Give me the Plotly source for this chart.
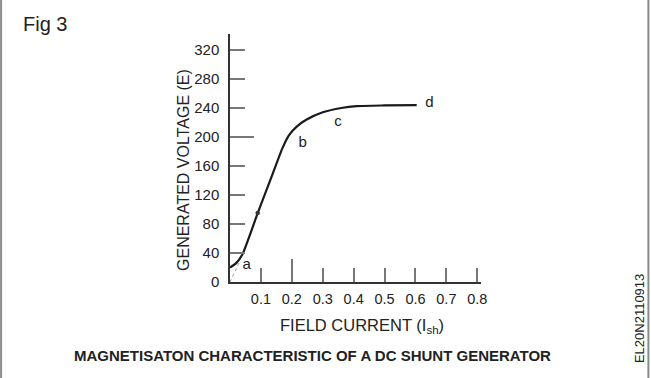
import plotly.graph_objects as go

# Magnetisation curve (field current A, generated voltage V)
field_current = [0, 0.02, 0.04, 0.0896, 0.13, 0.17, 0.19, 0.215, 0.248, 0.30, 0.36, 0.41, 0.50, 0.604]
gen_voltage = [20, 26, 38, 95, 140, 185, 202, 214, 224, 234, 240, 242.5, 243.5, 244]

# residual-magnetism extrapolation (dashed)
dash_x = [0, 0.03]
dash_y = [0, 27]

# marked point on the curve
dot_x = [0.0896]
dot_y = [95]

# point labels
label_text = ["a", "b", "c", "d"]
label_x = [0.054, 0.235, 0.349, 0.645]
label_y = [23, 192, 220, 246]

y_ticks = [0, 40, 80, 120, 160, 200, 240, 280, 320]
x_ticks = [0.1, 0.2, 0.3, 0.4, 0.5, 0.6, 0.7, 0.8]
x_tick_text = ["0.1", "0.2", "0.3", "0.4", "0.5", "0.6", "0.7", "0.8"]

FONT = "Liberation Sans, Arial, Helvetica, sans-serif"
INK = "#222222"

fig = go.Figure()
fig.add_trace(go.Scatter(x=dash_x, y=dash_y, mode="lines",
                         line=dict(color="#9a9a9a", width=1, dash="dot"),
                         hoverinfo="skip", showlegend=False))
fig.add_trace(go.Scatter(x=field_current, y=gen_voltage, mode="lines",
                         line=dict(color="#1a1a1a", width=2.2, shape="spline", smoothing=0.6),
                         showlegend=False))
fig.add_trace(go.Scatter(x=dot_x, y=dot_y, mode="markers",
                         marker=dict(color="#333333", size=4.5), showlegend=False))
fig.add_trace(go.Scatter(x=label_x, y=label_y, mode="text", text=label_text,
                         textfont=dict(family=FONT, size=15, color=INK),
                         textposition="middle center", showlegend=False))
# helper invisible trace for the overlay axes carrying the longer ticks
fig.add_trace(go.Scatter(x=[0.2], y=[200], xaxis="x2", yaxis="y2", mode="markers",
                         marker=dict(opacity=0), hoverinfo="skip", showlegend=False))

X_RANGE = [0, 0.812]
Y_RANGE = [0, 342]

fig.update_layout(
    width=651, height=378,
    margin=dict(l=230, r=170, t=34, b=96),
    paper_bgcolor="white", plot_bgcolor="white",
    font=dict(family=FONT, color=INK),
    xaxis=dict(range=X_RANGE, showgrid=False, zeroline=False,
               showline=True, linecolor="#333333", linewidth=1.5,
               tickmode="array", tickvals=x_ticks, ticktext=x_tick_text,
               ticks="inside", ticklen=14, tickwidth=1.5, tickcolor="#777777",
               tickfont=dict(size=14.5, color=INK), ticklabelstandoff=3),
    yaxis=dict(range=Y_RANGE, showgrid=False, zeroline=False,
               showline=True, linecolor="#333333", linewidth=1.5,
               tickmode="array", tickvals=y_ticks,
               ticks="inside", ticklen=15, tickwidth=1.5, tickcolor="#777777",
               tickfont=dict(size=15, color=INK), ticklabelstandoff=6),
    xaxis2=dict(range=X_RANGE, overlaying="x", showgrid=False, zeroline=False,
                showline=False, tickmode="array", tickvals=[0.2],
                ticks="inside", ticklen=23, tickwidth=1.5, tickcolor="#777777",
                showticklabels=False, side="bottom"),
    yaxis2=dict(range=Y_RANGE, overlaying="y", showgrid=False, zeroline=False,
                showline=False, tickmode="array", tickvals=[200],
                ticks="inside", ticklen=24, tickwidth=1.5, tickcolor="#777777",
                showticklabels=False, side="left"),
)

annotations = [
    dict(text="Fig 3", x=-0.833, y=1.040, xanchor="left", yanchor="middle",
         font=dict(size=20, color=INK)),
    dict(text="GENERATED VOLTAGE (E)", x=-0.183, y=0.452, textangle=-90,
         xanchor="center", yanchor="middle", font=dict(size=16, color=INK)),
    dict(text="FIELD CURRENT (I<sub>sh</sub>)", x=0.526, y=-0.177,
         xanchor="center", yanchor="middle", font=dict(size=16.5, color=INK)),
    dict(text="<b>MAGNETISATON CHARACTERISTIC OF A DC SHUNT GENERATOR</b>",
         x=0.329, y=-0.298, xanchor="center", yanchor="middle",
         font=dict(size=15, color=INK)),
    dict(text="EL20N2110913", x=1.634, y=-0.149, textangle=-90,
         xanchor="center", yanchor="middle", font=dict(size=13, color=INK)),
]
for a in annotations:
    a.update(xref="paper", yref="paper", showarrow=False)
fig.update_layout(annotations=annotations)

# frame lines at the left and right edges of the figure
fig.add_shape(type="line", xref="paper", yref="paper", x0=-0.912, x1=-0.912,
              y0=-0.387, y1=1.137, line=dict(color="#8a8a8a", width=2))
fig.add_shape(type="line", xref="paper", yref="paper", x0=1.667, x1=1.667,
              y0=-0.387, y1=1.137, line=dict(color="#8a8a8a", width=2))

fig.write_html("out.html", config={"displayModeBar": False},
               post_script="document.body.style.margin='0';document.body.style.overflow='hidden';")
